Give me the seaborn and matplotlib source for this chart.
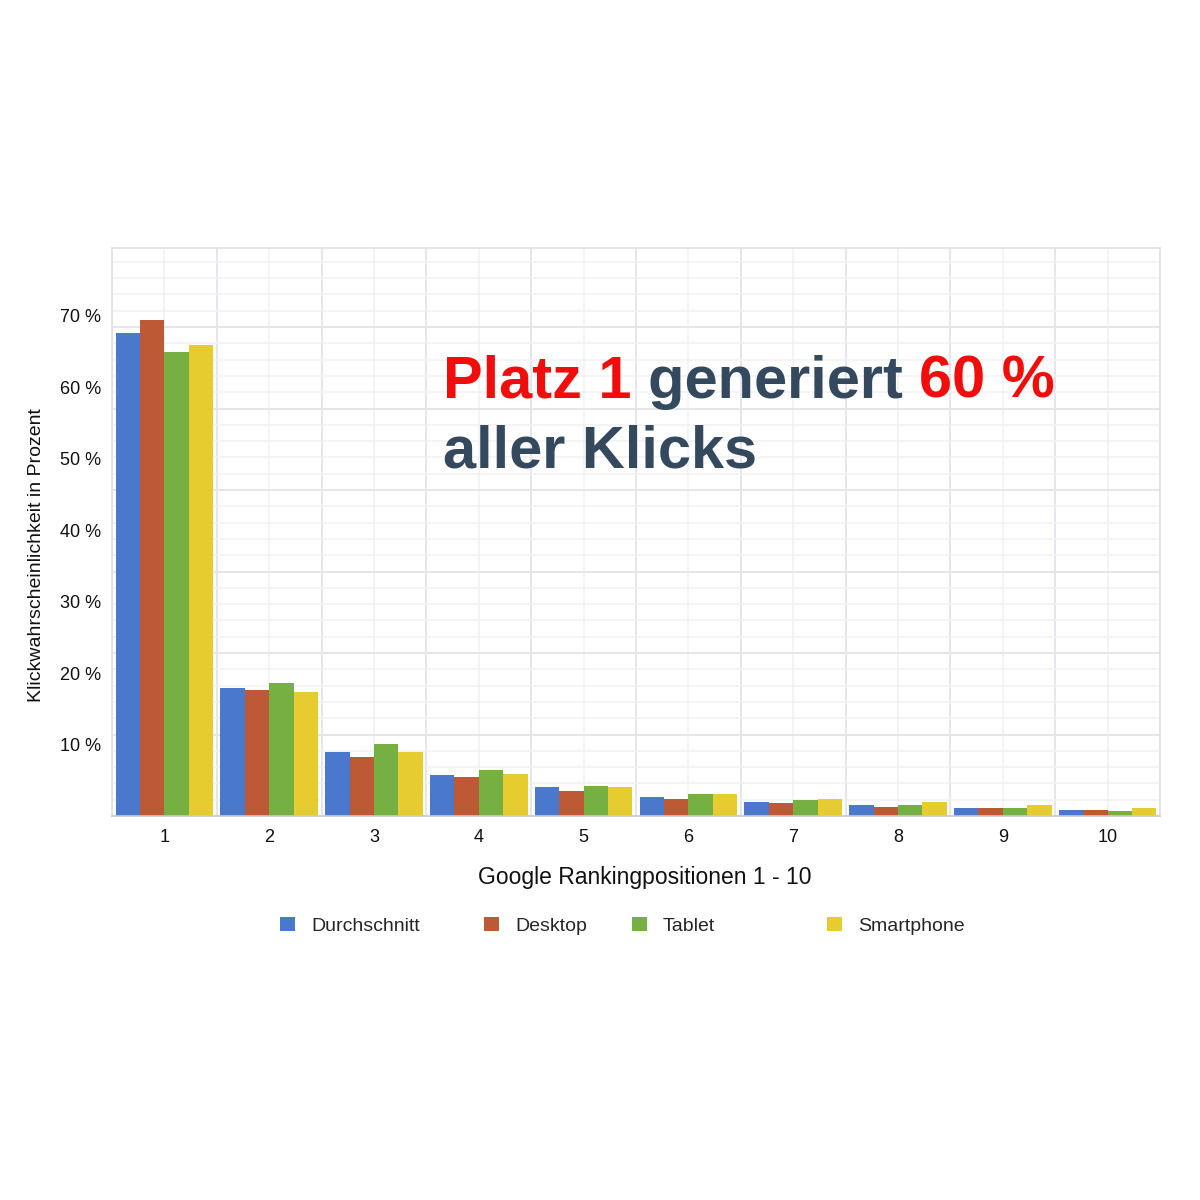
import matplotlib
matplotlib.use("Agg")
import matplotlib.pyplot as plt
from matplotlib.patches import Patch
from matplotlib.ticker import MultipleLocator, FixedLocator
import seaborn as sns
import pandas as pd

positions = ["1", "2", "3", "4", "5", "6", "7", "8", "9", "10"]
series = ["Durchschnitt", "Desktop", "Tablet", "Smartphone"]
durchschnitt = [67.6, 17.9, 9.0, 5.7, 4.0, 2.6, 2.0, 1.6, 1.1, 0.9]
desktop      = [69.4, 17.7, 8.3, 5.5, 3.5, 2.4, 1.8, 1.3, 1.1, 0.9]
tablet       = [65.0, 18.6, 10.1, 6.4, 4.2, 3.1, 2.2, 1.55, 1.1, 0.7]
smartphone   = [65.9, 17.3, 9.0, 5.9, 4.0, 3.1, 2.4, 2.0, 1.55, 1.1]
ytick_values = [10, 20, 30, 40, 50, 60, 70]
ytick_labels = ["10 %", "20 %", "30 %", "40 %", "50 %", "60 %", "70 %"]
colors = ["#4a78cc", "#bd5934", "#76b043", "#e7cc2f"]

rows = []
for name, vals in zip(series, [durchschnitt, desktop, tablet, smartphone]):
    for p, v in zip(positions, vals):
        rows.append({"Position": p, "Serie": name, "Wert": v})
df = pd.DataFrame(rows)

sns.set_theme(style="white")
plt.rcParams["font.family"] = ["Liberation Sans", "DejaVu Sans"]

fig = plt.figure(figsize=(12, 12), dpi=100)
fig.patch.set_facecolor("white")
pos = [112 / 1200, 1 - 816 / 1200, 1048 / 1200, 568 / 1200]

# background grid axes
gax = fig.add_axes(pos, zorder=0)
gax.set_xlim(-0.5, 9.5)
gax.set_ylim(0, 568 / 8.15)
gax.yaxis.set_major_locator(MultipleLocator(10))
gax.yaxis.set_minor_locator(MultipleLocator(2))
gax.xaxis.set_major_locator(MultipleLocator(1, offset=0.5))
gax.xaxis.set_minor_locator(MultipleLocator(1))
gax.grid(which="major", color="#e4e6ea", lw=1.4)
gax.grid(which="minor", color="#f0f1f4", lw=1.1)
gax.tick_params(which="both", length=0, labelleft=False, labelbottom=False)
for s in gax.spines.values():
    s.set_visible(False)
gax.set_facecolor("white")

ax = fig.add_axes(pos, zorder=1)
ax.set_facecolor("none")
sns.barplot(data=df, x="Position", y="Wert", hue="Serie", hue_order=series,
            palette=colors, width=0.93, gap=0, saturation=1, ax=ax,
            legend=False, edgecolor="none", linewidth=0)
ax.set_xlim(-0.5, 9.5)
ax.set_ylim(0, 79.5)
ax.yaxis.set_major_locator(FixedLocator(ytick_values))
ax.set_yticklabels(ytick_labels)
ax.tick_params(axis="both", length=0, labelsize=13, colors="#111111")
ax.tick_params(axis="y", pad=8)
ax.tick_params(axis="x", pad=9)
ax.set_xlabel("Google Rankingpositionen 1 - 10", fontsize=16.5, color="#111111")
ax.set_ylabel("Klickwahrscheinlichkeit in Prozent", fontsize=14, color="#111111")
ax.xaxis.set_label_coords(0.508, -0.088)
ax.yaxis.set_label_coords(-0.064, 0.46)
for name, s in ax.spines.items():
    s.set_visible(True)
    s.set_color("#dfe1e5")
    s.set_linewidth(1.2)
ax.spines["bottom"].set_color("#c9cbcf")

# legend items
legend_x = [280, 484, 632, 827]
for name, c, lx in zip(series, colors, legend_x):
    fig.legend(handles=[Patch(facecolor=c, edgecolor="none", label=name)],
               loc="center left", bbox_to_anchor=(lx / 1200, 1 - 926 / 1200),
               frameon=False, fontsize=14, handlelength=0.75, handleheight=0.75,
               handletextpad=0.85, borderaxespad=0, borderpad=0)

# headline with mixed colours
red = "#f20d0d"
dark = "#34495e"
fsz = 42.8
fig.canvas.draw()
renderer = fig.canvas.get_renderer()
x0 = 443 / 1200
pieces = [("Platz 1 ", red), ("generiert ", dark), ("60 %", red)]
x = x0
for txt, col in pieces:
    t = fig.text(x, 1 - 398 / 1200, txt, fontsize=fsz, fontweight="bold", color=col,
                 va="baseline", ha="left")
    bb = t.get_window_extent(renderer=renderer)
    x = x + bb.width / (fig.bbox.width)
fig.text(x0, 1 - 468 / 1200, "aller Klicks", fontsize=fsz, fontweight="bold", color=dark,
         va="baseline", ha="left")

fig.savefig("out.png", dpi=100, facecolor="white")
